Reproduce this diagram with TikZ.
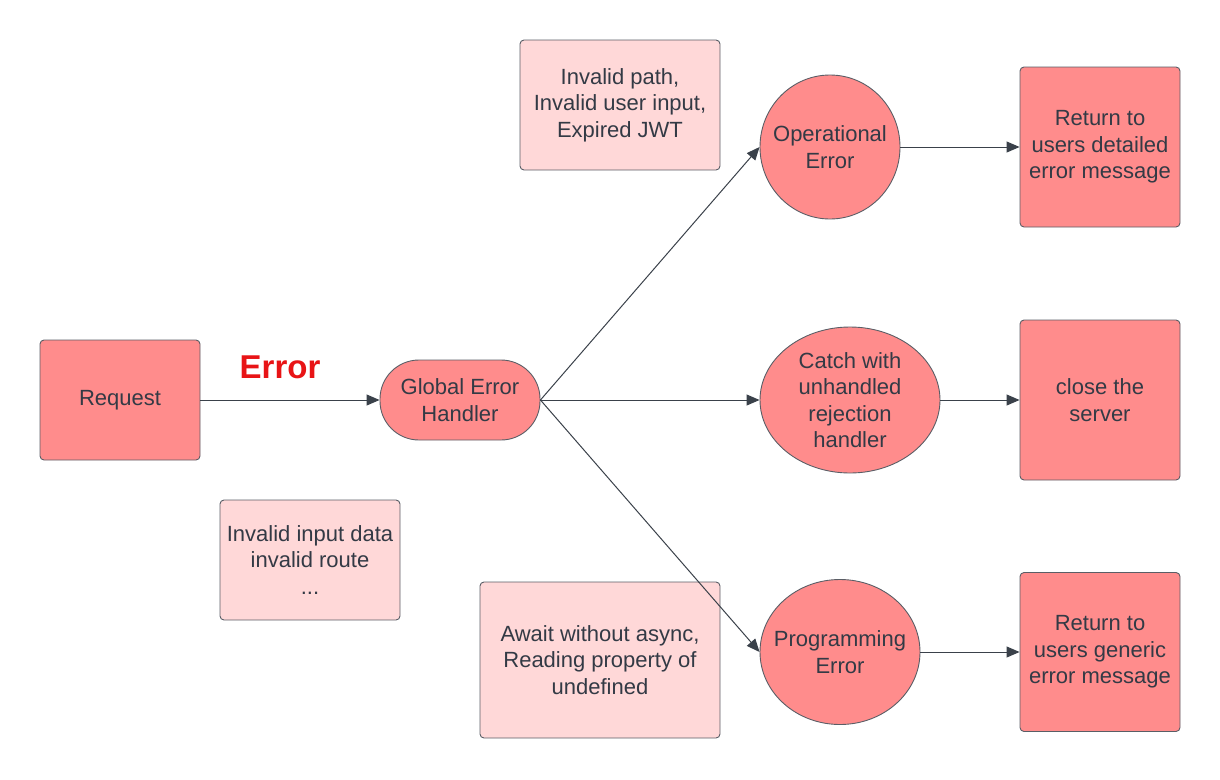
\documentclass[tikz,border=0pt]{standalone}
\usepackage{fontspec}
\setmainfont{Liberation Sans}
\usetikzlibrary{arrows.meta,shapes.geometric}
\definecolor{boxfill}{HTML}{FF8C8C}
\definecolor{notefill}{HTML}{FFD8D8}
\definecolor{edge}{HTML}{5A5E66}
\definecolor{txt}{HTML}{333A45}
\definecolor{arr}{HTML}{3A414A}
\definecolor{errred}{HTML}{E81416}
\tikzset{
  base/.style={draw=edge, line width=0.9pt, text=txt, align=center, inner sep=0pt,
    font=\fontsize{22pt}{26.5pt}\selectfont},
  redbox/.style={base, rectangle, rounded corners=4pt, fill=boxfill},
  notebox/.style={base, rectangle, rounded corners=4pt, fill=notefill},
  oval/.style={base, ellipse, fill=boxfill, inner xsep=-22pt, inner ysep=-10pt},
  pill/.style={base, rectangle, rounded corners=39pt, fill=boxfill},
  conn/.style={draw=arr, line width=1pt, -{Triangle[length=13pt,width=11pt]}}
}
\begin{document}
\begin{tikzpicture}[x=1pt,y=-1pt]
\useasboundingbox (0,0) rectangle (1220,779);
\node[redbox, minimum width=160pt, minimum height=120pt] (req) at (120,400) {Request};
\node[text=errred, font=\fontsize{33pt}{38pt}\selectfont\bfseries] (errlbl) at (280,367) {Error};
\node[pill, minimum width=160pt, minimum height=80pt] (geh) at (460,400) {Global Error\\Handler};
\node[notebox, minimum width=200pt, minimum height=130pt] (n1) at (620,105) {Invalid path,\\Invalid user input,\\Expired JWT};
\node[notebox, minimum width=180pt, minimum height=120pt] (n2) at (310,560) {Invalid input data\\invalid route\\...};
\node[notebox, minimum width=240pt, minimum height=156pt] (n3) at (600,660) {Await without async,\\Reading property of\\undefined};
\node[oval, minimum width=140pt, minimum height=144pt] (op) at (830,147) {Operational\\Error};
\node[oval, minimum width=180pt, minimum height=146pt] (ca) at (850,400) {Catch with\\unhandled\\rejection\\handler};
\node[oval, minimum width=160pt, minimum height=145pt] (pr) at (840,652) {Programming\\Error};
\node[redbox, minimum width=160pt, minimum height=160pt] (r1) at (1100,147) {Return to\\users detailed\\error message};
\node[redbox, minimum width=160pt, minimum height=160pt] (r2) at (1100,400) {close the\\server};
\node[redbox, minimum width=160pt, minimum height=159pt] (r3) at (1100,652) {Return to\\users generic\\error message};
\draw[conn] (req.east) -- (geh.west);
\draw[conn] (geh.east) -- (op.west);
\draw[conn] (geh.east) -- (ca.west);
\draw[conn] (geh.east) -- (pr.west);
\draw[conn] (op.east) -- (r1.west);
\draw[conn] (ca.east) -- (r2.west);
\draw[conn] (pr.east) -- (r3.west);
\end{tikzpicture}
\end{document}
